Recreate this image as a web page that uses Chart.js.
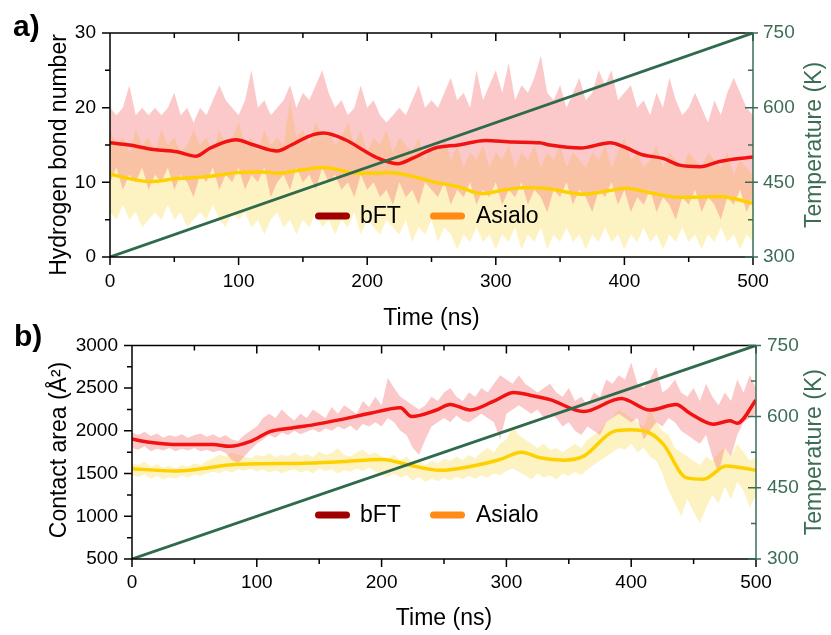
<!DOCTYPE html>
<html><head><meta charset="utf-8">
<script src="https://cdn.jsdelivr.net/npm/chart.js@4/dist/chart.umd.min.js"></script>
<style>
html,body{margin:0;padding:0;background:#fff;}
body{width:831px;height:635px;position:relative;overflow:hidden;font-family:"Liberation Sans",Arial,sans-serif;}
.wrap{position:absolute;left:0;width:831px;}
#wa{top:0;height:335px;}
#wb{top:320px;height:315px;}
.lab{position:absolute;font-weight:bold;font-size:30px;line-height:1;color:#000;}
</style></head><body>
<div class="wrap" id="wa"><canvas id="ca" width="831" height="335"></canvas></div>
<div class="wrap" id="wb"><canvas id="cb" width="831" height="315"></canvas></div>
<div class="lab" style="left:13px;top:11px">a)</div>
<div class="lab" style="left:14px;top:321px">b)</div>
<script>
// ---------- categories / ticks ----------
const TIME = Array.from({length: 101}, (_, i) => i * 5); // sampling grid (ns)
const X_TICKS = [0, 100, 200, 300, 400, 500];
const TEMP_T = [0, 500];
const TEMP_K = [300, 750];
const LEGEND_NAMES = ['bFT', 'Asialo'];

// ---------- panel a: hydrogen bond number ----------
const BFT_MAX_A = [
 20,19,20,23,19,20,19,20,19,20,
 22,19,20,18,20,19,21,23,21,20,
 19,21,25,20,21,19,20,21,23,20,
 22,21,23,25,22,20,21,19,20,23,
 20,21,19,18,19,20,19,21,23,20,
 21,20,22,24,21,22,20,25,21,23,
 25,22,26,21,23,22,24,27,22,21,
 23,20,22,24,21,22,25,23,25,21,
 22,23,20,21,19,22,20,24,21,19,
 20,22,20,18,21,19,22,24,22,20,
 19];
const BFT_MIN_A = [
 10,12,9,11,10,12,9,11,10,12,
 9,11,10,8,11,10,12,9,11,10,
 12,9,11,10,12,8,10,11,9,12,
 10,11,9,12,10,11,9,10,8,11,
 9,10,8,9,7,10,8,9,7,10,
 9,8,10,7,9,8,10,7,9,8,
 10,7,9,8,10,7,9,8,6,9,
 8,10,7,9,8,6,9,8,10,7,
 9,6,8,7,9,6,8,7,5,8,
 7,9,6,8,7,5,8,7,9,6,
 8];
const ASIALO_MAX_A = [
 17,15,16,14,17,15,16,14,17,15,
 16,14,15,17,15,16,14,17,15,16,
 18,15,16,14,17,15,16,15,21,16,
 17,15,18,16,17,15,16,18,15,17,
 14,16,15,17,14,16,15,14,16,13,
 15,14,16,13,15,12,14,13,15,12,
 14,13,15,12,14,13,15,12,14,13,
 15,12,14,13,12,14,13,15,12,14,
 16,13,14,12,13,15,12,14,13,12,
 14,13,12,14,13,12,14,11,13,12,
 11];
const ASIALO_MIN_A = [
 6,5,7,5,6,4,5,6,5,7,
 5,6,4,5,6,5,7,5,4,6,
 5,6,4,5,3,5,6,4,5,3,
 5,4,6,4,5,3,5,4,6,3,
 5,4,3,5,4,3,5,2,4,3,
 5,2,4,3,1,3,2,4,2,3,
 1,3,2,4,1,3,2,4,1,3,
 2,4,2,3,1,3,2,4,2,3,
 1,3,2,4,2,3,1,3,2,4,
 2,3,1,3,2,4,2,3,1,3,
 2];
const BFT_SMOOTH_T_A = [0,15,34,52,67,78,98,112,130,141,155,166,183,199,209,224,235,253,271,292,313,334,342,366,389,399,414,430,443,459,474,500];
const BFT_SMOOTH_A   = [15.3,15.0,14.4,14.1,13.5,14.6,15.7,15.0,14.2,15.0,16.2,16.6,15.7,14.1,13.2,12.5,13.2,14.6,15.0,15.6,15.4,15.3,15.0,14.6,15.3,14.8,13.7,13.2,12.3,12.1,12.8,13.4];
const ASIALO_SMOOTH_T_A = [0,15,31,52,78,98,119,130,150,166,193,219,235,253,271,289,307,323,342,368,389,402,420,443,474,500];
const ASIALO_SMOOTH_A   = [11.1,10.5,10.1,10.5,10.8,11.3,11.4,11.2,11.7,12.0,11.2,11.3,10.8,10.0,9.4,8.5,9.0,9.3,9.1,8.4,8.9,9.2,8.6,8.0,8.1,7.2];

// ---------- panel b: contact area ----------
const BFT_MAX_B = [
 1980,1950,1990,1940,1970,1920,1950,1930,1960,1920,
 1950,1970,1930,1960,1920,1950,1900,1880,1950,2000,
 2050,2150,2200,2150,2250,2180,2120,2200,2150,2250,
 2200,2150,2280,2200,2300,2250,2200,2350,2280,2400,
 2300,2620,2500,2400,2350,2300,2250,2300,2400,2350,
 2450,2500,2400,2350,2450,2400,2500,2450,2550,2650,
 2600,2550,2650,2550,2500,2450,2500,2550,2450,2400,
 2500,2350,2400,2300,2450,2400,2600,2550,2650,2600,
 2800,2550,2500,2600,2750,2450,2500,2600,2450,2400,
 2500,2350,2550,2400,2300,2450,2350,2600,2450,2650,
 2500];
const BFT_MIN_B = [
 1800,1780,1820,1760,1790,1770,1800,1760,1790,1770,
 1800,1760,1780,1750,1770,1740,1660,1620,1700,1780,
 1850,1900,1950,1920,1980,1950,2000,1960,1990,2020,
 1980,2030,2000,2050,2020,2060,2000,2080,2050,2100,
 2050,2150,2100,2000,1950,1800,1720,1900,2050,2100,
 2150,2100,2180,2120,2100,2150,2200,2150,2100,1900,
 2200,2250,2300,2250,2200,2250,2150,2200,2150,2050,
 2100,2000,1950,2050,2000,1950,2100,2150,2200,2150,
 2100,2150,1900,2000,2100,2050,2150,2100,2000,1950,
 1900,1850,1950,1700,1500,1800,1700,1950,2100,2150,
 2200];
const ASIALO_MAX_B = [
 1620,1600,1640,1580,1610,1570,1590,1560,1600,1580,
 1620,1600,1650,1680,1720,1700,1750,1720,1700,1680,
 1720,1700,1740,1690,1720,1700,1750,1700,1730,1690,
 1760,1720,1740,1800,1720,1700,1750,1780,1720,1750,
 1700,1680,1720,1650,1700,1620,1660,1600,1650,1620,
 1680,1650,1700,1660,1720,1680,1750,1800,1750,1850,
 1900,2050,1950,1900,1850,1800,1850,1780,1800,1750,
 1800,1850,1800,1900,1950,2000,2100,2150,2250,2200,
 2150,2100,2050,2250,2100,2000,1950,1800,1750,1700,
 1650,1600,1700,1650,1750,1800,1700,1850,1750,1650,
 1700];
const ASIALO_MIN_B = [
 1480,1460,1490,1440,1470,1430,1460,1440,1480,1450,
 1490,1470,1500,1520,1500,1540,1510,1550,1530,1560,
 1520,1550,1510,1540,1500,1530,1550,1510,1540,1500,
 1560,1530,1550,1500,1540,1520,1560,1530,1570,1520,
 1500,1460,1500,1450,1480,1420,1460,1400,1440,1410,
 1450,1420,1460,1430,1470,1440,1480,1450,1500,1480,
 1530,1560,1520,1480,1430,1500,1450,1480,1430,1500,
 1470,1520,1480,1550,1600,1650,1700,1750,1800,1780,
 1850,1750,1800,1700,1650,1500,1300,1150,1000,1200,
 1050,920,1100,1250,1150,1350,1200,1400,1300,1100,
 1250];
const BFT_SMOOTH_T_B = [0,14,38,65,78,95,111,127,145,166,191,215,224,244,255,271,290,306,319,335,362,392,415,436,447,466,479,485,500];
const BFT_SMOOTH_B   = [1904,1866,1839,1839,1819,1877,1993,2031,2070,2128,2205,2271,2167,2244,2309,2244,2348,2448,2417,2365,2225,2379,2244,2309,2205,2078,2117,2089,2360];
const ASIALO_SMOOTH_T_B = [0,33,52,78,105,132,166,201,220,247,273,295,312,327,346,362,386,399,415,426,444,458,476,500];
const ASIALO_SMOOTH_B   = [1557,1530,1549,1600,1615,1619,1638,1665,1607,1538,1588,1665,1750,1684,1657,1704,1993,2012,1973,1839,1453,1434,1588,1538];

// ---------- styles ----------
const FONT = '"Liberation Sans", Arial, sans-serif';
const GREEN = '#3b6d55';
const LINE_GREEN = '#2f6a4c';
const PINK_FILL = 'rgba(245,120,120,0.40)';
const YELLOW_FILL = 'rgba(250,220,80,0.35)';
const RED = '#f21212';
const YELLOW = '#ffd000';
const LEGEND_COLORS = ['#a00000', '#ff8a14'];

const pts = (xs, ys) => ys.map((v, i) => ({x: xs[i], y: v}));

const framePlugin = {
  id: 'frame',
  afterDatasetsDraw(chart, args, o) {
    const {ctx, chartArea: a, scales} = chart;
    const sx = scales.x, sy = scales.y, s2 = scales.y2;
    const mids = s => { const t = s.ticks.map(k => k.value), m = []; for (let i = 0; i < t.length - 1; i++) m.push((t[i] + t[i + 1]) / 2); return m; };
    const MJ = 8, MN = 5;
    ctx.save();
    ctx.lineWidth = 1.5;
    ctx.lineCap = 'butt';
    ctx.strokeStyle = '#000';
    ctx.beginPath();
    sx.ticks.forEach(t => { const p = sx.getPixelForValue(t.value);
      ctx.moveTo(p, a.bottom); ctx.lineTo(p, a.bottom + MJ);
      ctx.moveTo(p, a.top); ctx.lineTo(p, a.top + MJ); });
    mids(sx).forEach(v => { const p = sx.getPixelForValue(v);
      ctx.moveTo(p, a.bottom); ctx.lineTo(p, a.bottom + MN);
      ctx.moveTo(p, a.top); ctx.lineTo(p, a.top + MN); });
    sy.ticks.forEach(t => { const p = sy.getPixelForValue(t.value);
      ctx.moveTo(a.left, p); ctx.lineTo(a.left - MJ, p); });
    mids(sy).forEach(v => { const p = sy.getPixelForValue(v);
      ctx.moveTo(a.left, p); ctx.lineTo(a.left - MN, p); });
    ctx.moveTo(a.left, a.top); ctx.lineTo(a.right, a.top);
    ctx.moveTo(a.left, a.top); ctx.lineTo(a.left, a.bottom); ctx.lineTo(a.right, a.bottom);
    ctx.stroke();
    ctx.strokeStyle = GREEN;
    ctx.beginPath();
    s2.ticks.forEach(t => { const p = s2.getPixelForValue(t.value);
      ctx.moveTo(a.right - MJ, p); ctx.lineTo(a.right + 5, p); });
    mids(s2).forEach(v => { const p = s2.getPixelForValue(v);
      ctx.moveTo(a.right, p); ctx.lineTo(a.right - MN, p); });
    ctx.moveTo(a.right, a.top); ctx.lineTo(a.right, a.bottom);
    ctx.stroke();
    ctx.restore();
  },
  afterDraw(chart, args, o) {
    const {ctx, chartArea: a} = chart;
    ctx.save();
    const y = o.legendY;
    const sw = [[315, 350, 360], [430, 465, 476]];
    ctx.lineCap = 'round';
    ctx.lineWidth = 7;
    ctx.font = '23px ' + FONT;
    ctx.textBaseline = 'middle';
    ctx.textAlign = 'left';
    LEGEND_NAMES.forEach((n, i) => {
      ctx.strokeStyle = LEGEND_COLORS[i];
      ctx.beginPath(); ctx.moveTo(sw[i][0] + 3.5, y); ctx.lineTo(sw[i][1] - 3.5, y); ctx.stroke();
      ctx.fillStyle = '#000';
      ctx.fillText(n, sw[i][2], y + 1);
    });
    ctx.textAlign = 'center';
    // left axis title (reads bottom-to-top)
    ctx.save();
    ctx.translate(60, o.yTitleY);
    ctx.rotate(-Math.PI / 2);
    ctx.fillStyle = '#000';
    ctx.fillText(o.yTitle, 0, 0);
    ctx.restore();
    // right axis title (reads bottom-to-top)
    ctx.translate(815, (a.top + a.bottom) / 2);
    ctx.rotate(-Math.PI / 2);
    ctx.fillStyle = GREEN;
    ctx.fillText('Temperature (K)', 0, 0);
    ctx.restore();
  }
};

function makeChart(id, P) {
  const tickFont = {size: 19, family: FONT};
  const titleFont = {size: 23, family: FONT};
  const plain = v => String(v);
  return new Chart(document.getElementById(id), {
    type: 'line',
    data: {datasets: [
      {label: 'Asialo raw min', data: pts(TIME, P.aMin), borderColor: 'rgba(0,0,0,0)', borderWidth: 1, pointRadius: 0, fill: false, order: 6},
      {label: 'Asialo raw max', data: pts(TIME, P.aMax), borderColor: 'rgba(0,0,0,0)', borderWidth: 1, pointRadius: 0, fill: '-1', backgroundColor: YELLOW_FILL, order: 6},
      {label: 'bFT raw min', data: pts(TIME, P.bMin), borderColor: 'rgba(0,0,0,0)', borderWidth: 1, pointRadius: 0, fill: false, order: 5},
      {label: 'bFT raw max', data: pts(TIME, P.bMax), borderColor: 'rgba(0,0,0,0)', borderWidth: 1, pointRadius: 0, fill: '-1', backgroundColor: PINK_FILL, order: 5},
      {label: 'Asialo', data: pts(P.aST, P.aS), borderColor: YELLOW, borderWidth: 3.5, pointRadius: 0, fill: false, tension: 0.4, cubicInterpolationMode: 'monotone', order: 3},
      {label: 'bFT', data: pts(P.bST, P.bS), borderColor: RED, borderWidth: 3.5, pointRadius: 0, fill: false, tension: 0.4, cubicInterpolationMode: 'monotone', order: 2},
      {label: 'Temperature', data: pts(TEMP_T, TEMP_K), borderColor: LINE_GREEN, borderWidth: 2.8, pointRadius: 0, fill: false, yAxisID: 'y2', order: 0}
    ]},
    options: {
      responsive: false, animation: false, devicePixelRatio: 1,
      layout: {padding: {top: P.top, left: 0, right: 0, bottom: 0}},
      plugins: {legend: {display: false}, tooltip: {enabled: false}, frame: {legendY: P.legendY, yTitle: P.yTitle, yTitleY: P.yTitleY}},
      scales: {
        x: {type: 'linear', min: 0, max: 500,
          afterBuildTicks: s => { s.ticks = X_TICKS.map(v => ({value: v})); },
          ticks: {font: tickFont, color: '#000', padding: P.xPad, maxRotation: 0, callback: plain},
          grid: {display: false, drawTicks: false}, border: {display: false},
          title: {display: true, text: 'Time (ns)', font: titleFont, color: '#000', padding: {top: 0, bottom: 3}},
          afterFit: s => { s.height = P.xH; }},
        y: {position: 'left', min: P.yMin, max: P.yMax,
          ticks: {stepSize: P.yStep, font: tickFont, color: '#000', padding: 14, callback: plain},
          grid: {display: false, drawTicks: false}, border: {display: false},
          afterFit: s => { s.width = P.yW; }},
        y2: {position: 'right', min: 300, max: 750,
          ticks: {stepSize: 150, font: tickFont, color: GREEN, padding: P.y2Pad, callback: plain},
          grid: {display: false, drawTicks: false}, border: {display: false},
          afterFit: s => { s.width = P.y2W; }}
      }
    },
    plugins: [framePlugin]
  });
}

makeChart('ca', {
  aMin: ASIALO_MIN_A, aMax: ASIALO_MAX_A, bMin: BFT_MIN_A, bMax: BFT_MAX_A,
  aST: ASIALO_SMOOTH_T_A, aS: ASIALO_SMOOTH_A, bST: BFT_SMOOTH_T_A, bS: BFT_SMOOTH_A,
  yMin: 0, yMax: 30, yStep: 10, yTitle: 'Hydrogen bond number', yTitleY: 155,
  top: 33, xH: 78, yW: 110, y2W: 78, xPad: 13.6, y2Pad: 10, legendY: 216
});
makeChart('cb', {
  aMin: ASIALO_MIN_B, aMax: ASIALO_MAX_B, bMin: BFT_MIN_B, bMax: BFT_MAX_B,
  aST: ASIALO_SMOOTH_T_B, aS: ASIALO_SMOOTH_B, bST: BFT_SMOOTH_T_B, bS: BFT_SMOOTH_B,
  yMin: 500, yMax: 3000, yStep: 500, yTitle: 'Contact area (Å\u00B2)', yTitleY: 130,
  top: 23, xH: 76, yW: 132, y2W: 75, xPad: 12.6, y2Pad: 11, legendY: 195
});
</script>
</body></html>
